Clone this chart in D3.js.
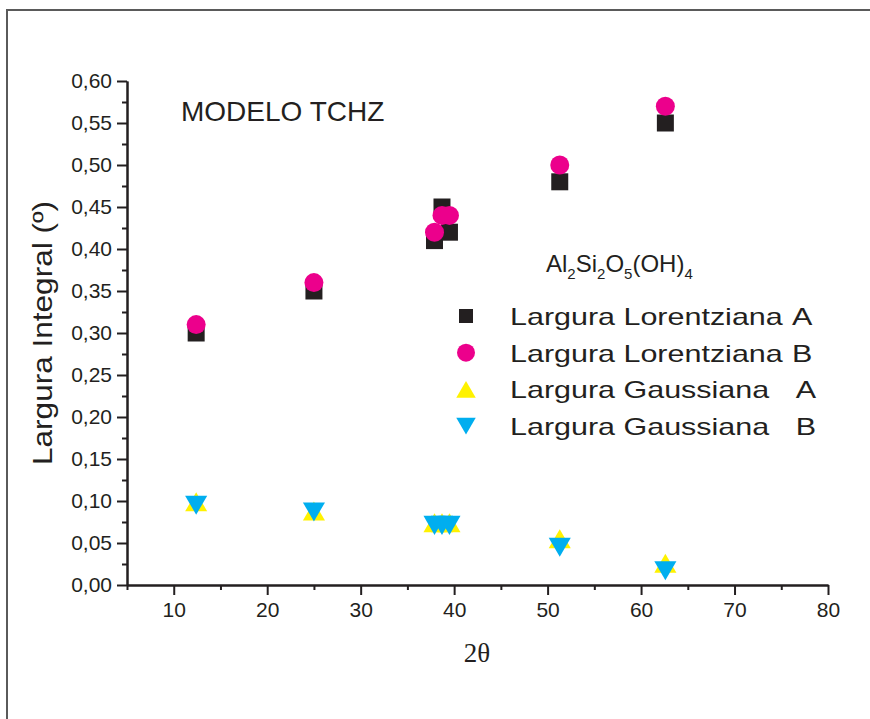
<!DOCTYPE html>
<html>
<head>
<meta charset="utf-8">
<script src="https://cdn.jsdelivr.net/npm/d3@7"></script>
<style>
  body { margin: 0; background: #fff; }
  svg { display: block; font-family: "Liberation Sans", Arial, sans-serif; }
</style>
</head>
<body>
<svg id="chart" width="870" height="719"></svg>
<script>
// data
const twoTheta = [12.4, 25.0, 37.9, 38.7, 39.5, 51.3, 62.6];
const lorentzA = [0.30, 0.35, 0.41, 0.45, 0.42, 0.48, 0.55];
const lorentzB = [0.31, 0.36, 0.42, 0.44, 0.44, 0.50, 0.57];
const gaussA = [0.099, 0.088, 0.074, 0.074, 0.074, 0.055, 0.026];
const gaussB = [0.095, 0.087, 0.071, 0.071, 0.071, 0.045, 0.017];

const seriesNames = ["Largura Lorentziana A", "Largura Lorentziana B", "Largura Gaussiana A", "Largura Gaussiana B"];
const seriesColors = ["#231f20", "#ec008c", "#fff200", "#00aeef"];
const seriesShapes = ["square", "circle", "up", "down"];

const xTicks = [10, 20, 30, 40, 50, 60, 70, 80];
const xMinor = [5, 15, 25, 35, 45, 55, 65, 75];
const yTicks = [0, 0.05, 0.10, 0.15, 0.20, 0.25, 0.30, 0.35, 0.40, 0.45, 0.50, 0.55, 0.60];
const yTickLabels = ["0,00", "0,05", "0,10", "0,15", "0,20", "0,25", "0,30", "0,35", "0,40", "0,45", "0,50", "0,55", "0,60"];
const yMinor = [0.025, 0.075, 0.125, 0.175, 0.225, 0.275, 0.325, 0.375, 0.425, 0.475, 0.525, 0.575];

const svg = d3.select("#chart");
const ink = "#231f20";

// frame around the figure
svg.append("rect")
  .attr("x", 7).attr("y", 10)
  .attr("width", 900).attr("height", 800)
  .attr("fill", "none")
  .attr("stroke", "#5a5a5a")
  .attr("stroke-width", 2);

const x = d3.scaleLinear().domain([5, 80]).range([127, 828]);
const y = d3.scaleLinear().domain([0, 0.6]).range([585, 81]);

function styleAxis(g) {
  g.selectAll("path, line").attr("stroke", ink).attr("stroke-width", 2);
  g.selectAll("text").attr("fill", ink).style("font-size", "21px")
    .style("font-family", "'Liberation Sans', Arial, sans-serif");
}

// minor ticks first
svg.append("g")
  .attr("transform", "translate(0,585)")
  .call(d3.axisBottom(x).tickValues(xMinor).tickSize(5).tickSizeOuter(0).tickFormat(""))
  .call(styleAxis);
svg.append("g")
  .attr("transform", "translate(127,0)")
  .call(d3.axisLeft(y).tickValues(yMinor).tickSize(5).tickSizeOuter(0).tickFormat(""))
  .call(styleAxis);

// major ticks with labels
svg.append("g")
  .attr("transform", "translate(0,585)")
  .call(d3.axisBottom(x).tickValues(xTicks).tickSize(10).tickPadding(7).tickSizeOuter(0))
  .call(styleAxis);
svg.append("g")
  .attr("transform", "translate(127,0)")
  .call(d3.axisLeft(y).tickValues(yTicks).tickSize(10).tickPadding(5).tickSizeOuter(0)
    .tickFormat(function(d, i) { return yTickLabels[i]; }))
  .call(styleAxis);

// axis titles
svg.append("text")
  .attr("x", 477).attr("y", 662)
  .attr("text-anchor", "middle")
  .style("font-family", "'Liberation Serif', 'Times New Roman', serif")
  .style("font-size", "27px")
  .attr("fill", ink)
  .text("2θ");

svg.append("text")
  .attr("transform", "translate(52,333) rotate(-90)")
  .attr("text-anchor", "middle")
  .attr("textLength", 264)
  .attr("lengthAdjust", "spacingAndGlyphs")
  .style("font-size", "28px")
  .attr("fill", ink)
  .text("Largura Integral (º)");

svg.append("text")
  .attr("x", 181).attr("y", 121)
  .style("font-size", "28px")
  .attr("fill", ink)
  .text("MODELO TCHZ");

// marker shapes
function markerPath(shape, s) {
  if (shape === "square") return "M" + (-s / 2) + "," + (-s / 2) + "h" + s + "v" + s + "h" + (-s) + "Z";
  const w = s * 1.3, h = s * 1.12;
  const a = shape === "up" ? -h / 2 : h / 2;
  return "M0," + a + "L" + (w / 2) + "," + (-a) + "L" + (-w / 2) + "," + (-a) + "Z";
}

function drawMarks(g, shape, color, size) {
  if (shape === "circle") {
    g.append("circle").attr("r", size / 2).attr("fill", color);
  } else {
    g.append("path").attr("d", markerPath(shape, size)).attr("fill", color);
  }
}

const allSeries = [lorentzA, lorentzB, gaussA, gaussB];
const markerSizes = [17, 19, 17, 17];

allSeries.forEach(function(vals, k) {
  const pts = twoTheta.map(function(t, i) { return { t: t, v: vals[i] }; });
  svg.append("g").selectAll("g")
    .data(pts)
    .join("g")
    .attr("transform", function(d) { return "translate(" + x(d.t) + "," + y(d.v) + ")"; })
    .each(function() { drawMarks(d3.select(this), seriesShapes[k], seriesColors[k], markerSizes[k]); });
});

// legend
const formula = svg.append("text")
  .attr("x", 546).attr("y", 272)
  .style("font-size", "24px")
  .attr("fill", ink);
[["Al", false], ["2", true], ["Si", false], ["2", true], ["O", false], ["5", true], ["(OH)", false], ["4", true]]
  .forEach(function(p) {
    formula.append("tspan")
      .attr("y", p[1] ? 279 : 272)
      .style("font-size", p[1] ? "15px" : "24px")
      .text(p[0]);
  });

const legendSizes = [14, 18, 15, 15];
const rows = svg.append("g").selectAll("g")
  .data(seriesNames)
  .join("g")
  .attr("transform", function(d, i) { return "translate(0," + (316 + i * 36.7) + ")"; });

rows.each(function(d, i) {
  const row = d3.select(this);
  const mk = row.append("g").attr("transform", "translate(466,0)");
  drawMarks(mk, seriesShapes[i], seriesColors[i], legendSizes[i]);
  const cut = d.lastIndexOf(" ");
  const txt = row.append("g").attr("transform", "translate(510,9) scale(1.27,1)");
  txt.append("text")
    .style("font-size", "24px").attr("fill", ink)
    .text(d.slice(0, cut));
  txt.append("text")
    .attr("x", i < 2 ? 238 : 241)
    .attr("text-anchor", "end")
    .style("font-size", "24px").attr("fill", ink)
    .text(d.slice(cut + 1));
});
</script>
</body>
</html>
